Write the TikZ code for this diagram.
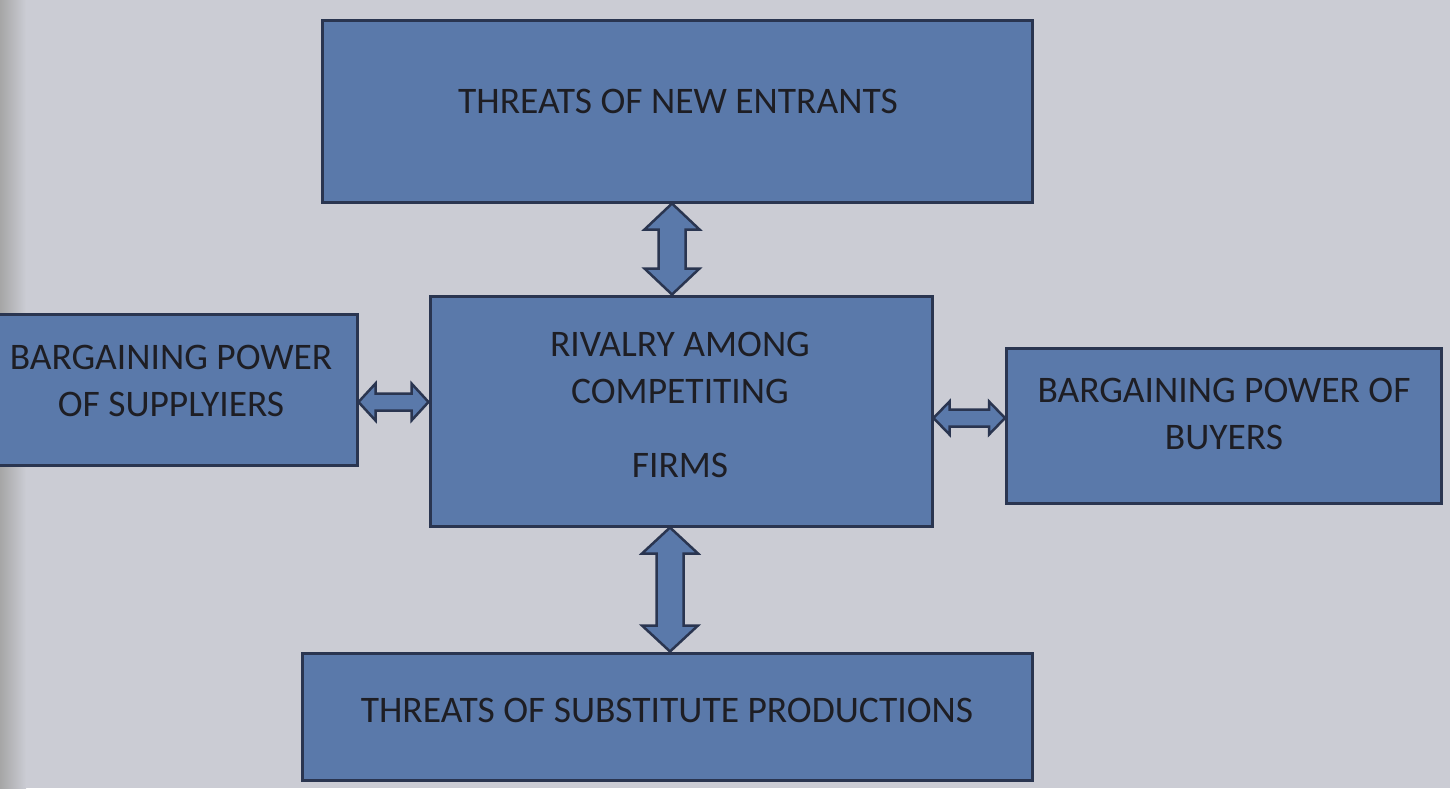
\documentclass[tikz,border=0pt]{standalone}
\usepackage{fontspec}
\setmainfont{Carlito}
\usetikzlibrary{calc}

\definecolor{paper}{HTML}{CBCCD4}
\definecolor{boxblue}{HTML}{5A79AA}
\definecolor{boxline}{HTML}{2A3550}
\definecolor{ink}{HTML}{1E1E24}

\tikzset{
  force/.style={draw=boxline, line width=3pt, fill=boxblue, rectangle, inner sep=0pt},
  forcetext/.style={text=ink, align=center, font=\fontsize{37.5}{47}\selectfont, inner sep=0pt},
  dblarrow/.style={draw=boxline, line width=2.5pt, fill=boxblue, line join=miter},
}

% two-headed block arrows between two tip points
\newcommand\vdarrow[5]{% top tip, bottom tip, half shaft, half head, head length
  \draw[dblarrow] let \p1=(#1), \p2=(#2) in
    (\x1,\y1) -- (\x1+#4,\y1-#5) -- (\x1+#3,\y1-#5) -- (\x1+#3,\y2+#5)
    -- (\x1+#4,\y2+#5) -- (\x1,\y2) -- (\x1-#4,\y2+#5) -- (\x1-#3,\y2+#5)
    -- (\x1-#3,\y1-#5) -- (\x1-#4,\y1-#5) -- cycle;}
\newcommand\hdarrow[5]{% left tip, right tip, half shaft, half head, head length
  \draw[dblarrow] let \p1=(#1), \p2=(#2) in
    (\x1,\y1) -- (\x1+#5,\y1+#4) -- (\x1+#5,\y1+#3) -- (\x2-#5,\y1+#3)
    -- (\x2-#5,\y1+#4) -- (\x2,\y1) -- (\x2-#5,\y1-#4) -- (\x2-#5,\y1-#3)
    -- (\x1+#5,\y1-#3) -- (\x1+#5,\y1-#4) -- cycle;}

\begin{document}
\begin{tikzpicture}[x=1pt, y=-1pt]
  \useasboundingbox (0,0) rectangle (1450,788);
  \fill[paper] (0,0) rectangle (1450,788);
  % shadow of the binding along the left edge
  \shade[left color=black!35, right color=paper] (0,0) rectangle (26,788);

  \begin{scope}
    \clip (0,0) rectangle (1450,788);
    % the five forces
    \node[force, minimum width=710pt, minimum height=182pt] (entrants) at (677,111) {};
    \node[force, minimum width=502pt, minimum height=230pt] (rivalry) at (681,411) {};
    \node[force, minimum width=372pt, minimum height=151pt] (suppliers) at (171,389.5) {};
    \node[force, minimum width=435pt, minimum height=155pt] (buyers) at (1224,426) {};
    \node[force, minimum width=730pt, minimum height=127pt] (substitutes) at (667,716.5) {};
  \end{scope}

  \node[forcetext] (entrantsT) at (678,101) {THREATS OF NEW ENTRANTS};
  \node[forcetext] (rivalryT) at (680,405) {RIVALRY AMONG\\COMPETITING\\[27pt]FIRMS};
  \node[forcetext] (suppliersT) at (171,380.5) {BARGAINING POWER\\OF SUPPLYIERS};
  \node[forcetext] (buyersT) at (1224,414) {BARGAINING POWER OF\\BUYERS};
  \node[forcetext] (substitutesT) at (667,710) {THREATS OF SUBSTITUTE PRODUCTIONS};

  % arrow axes
  \coordinate (ax1) at (672,0);
  \coordinate (ax2) at (670,0);
  \coordinate (ay1) at (0,402);
  \coordinate (ay2) at (0,418);

  \vdarrow{entrants.south -| ax1}{rivalry.north -| ax1}{13.5pt}{27.5pt}{26pt}
  \vdarrow{rivalry.south -| ax2}{substitutes.north -| ax2}{13.5pt}{28pt}{26pt}
  \hdarrow{suppliers.east |- ay1}{rivalry.west |- ay1}{8.5pt}{18.5pt}{17pt}
  \hdarrow{rivalry.east |- ay2}{buyers.west |- ay2}{8.5pt}{16.5pt}{16pt}
\end{tikzpicture}
\end{document}
